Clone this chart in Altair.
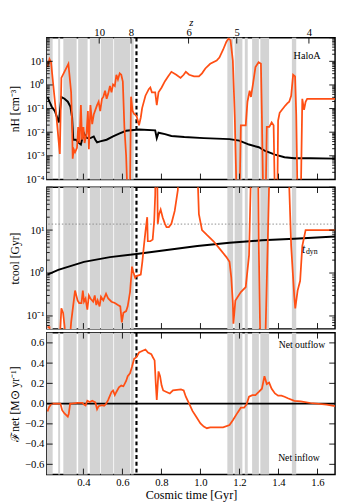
import altair as alt
import pandas as pd

# ---------------- data ----------------
nh_gas_t = [0.216, 0.226, 0.234, 0.246, 0.262, 0.279, 0.287, 0.323, 0.337, 0.342,
            0.345, 0.350, 0.357, 0.367, 0.373, 0.380, 0.387, 0.393, 0.400, 0.406,
            0.416, 0.423, 0.428, 0.436, 0.445, 0.453, 0.470, 0.478, 0.486, 0.495,
            0.502, 0.511, 0.519, 0.527, 0.536, 0.544, 0.552, 0.561, 0.569, 0.577,
            0.586, 0.594, 0.602, 0.610, 0.619, 0.627, 0.638, 0.644, 0.652, 0.660,
            0.672, 0.685, 0.694, 0.701, 0.718, 0.735, 0.743, 0.751, 0.768, 0.776,
            0.785, 0.801, 0.818, 0.834, 0.851, 0.876, 0.898, 0.914, 0.925, 0.942,
            0.967, 0.992, 1.008, 1.025, 1.050, 1.083, 1.097, 1.116, 1.133, 1.144,
            1.154, 1.166, 1.176, 1.186, 1.200, 1.207, 1.232, 1.241, 1.252, 1.259,
            1.269, 1.282, 1.298, 1.310, 1.315, 1.322, 1.334, 1.340, 1.353, 1.365,
            1.375, 1.382, 1.394, 1.398, 1.406, 1.418, 1.431, 1.445, 1.455, 1.465,
            1.475, 1.485, 1.491, 1.498, 1.514, 1.522, 1.531, 1.539, 1.547, 1.690]
nh_gas = [5.7, 12.5, 9.1, 0.9, 0.042, 0.0012, 2.0, 7.9, 0.49, 0.022,
          0.00076, 0.0019, 0.0014, 0.0022, 0.0166, 0.0035, 0.14, 0.0048, 0.0166, 0.0035,
          0.0089, 0.078, 0.0019, 0.14, 0.022, 0.056, 0.14, 0.195, 0.078, 0.26,
          0.31, 0.57, 0.26, 0.42, 0.9, 0.49, 1.06, 0.9, 2.7, 1.7,
          3.1, 2.7, 1.4, 0.0166, 0.001, 1e-5, 1e-5, 0.32, 0.079, 0.06,
          0.05, 0.0195, 0.042, 0.105, 0.35, 0.66, 0.78, 0.49, 0.49, 0.14,
          0.49, 0.78, 1.44, 2.3, 3.6, 2.7, 2.0, 2.7, 3.6, 2.7,
          2.3, 2.3, 3.1, 5.0, 7.9, 10.7, 14.5, 31, 68, 92,
          79, 10.7, 0.042, 1e-5, 1e-5, 0.0195, 0.0195, 0.195, 0.57, 0.31,
          1.06, 5.7, 9.1, 7.9, 0.042, 1e-5, 1e-5, 0.0166, 0.0166, 0.026,
          0.0195, 1e-5, 1e-5, 0.031, 0.066, 0.089, 0.123, 0.166, 0.195, 0.35,
          2.7, 2.3, 0.056, 1e-5, 1e-5, 0.26, 0.089, 0.195, 0.26, 0.26]

nh_halo_t = [0.216, 0.226, 0.237, 0.254, 0.274, 0.287, 0.303, 0.320, 0.333, 0.342,
             0.348, 0.362, 0.378, 0.387, 0.395, 0.403, 0.411, 0.420, 0.436, 0.453,
             0.461, 0.470, 0.486, 0.519, 0.552, 0.586, 0.619, 0.644, 0.685, 0.768,
             0.776, 0.785, 0.818, 0.851, 0.917, 1.017, 1.149, 1.199, 1.249, 1.299,
             1.332, 1.382, 1.431, 1.481, 1.564, 1.690]
nh_halo = [0.31, 0.195, 0.123, 0.078, 0.026, 0.31, 0.26, 0.195, 0.123, 0.042,
           0.0048, 0.0048, 0.0035, 0.003, 0.0056, 0.0089, 0.0066, 0.0056, 0.0056, 0.0066,
           0.0048, 0.0037, 0.0041, 0.0048, 0.0066, 0.0089, 0.0115, 0.012, 0.0129, 0.012,
           0.0056, 0.0095, 0.0083, 0.0069, 0.0062, 0.0056, 0.0051, 0.0044, 0.003, 0.0023,
           0.0016, 0.00112, 0.00087, 0.00079, 0.00079, 0.00076]

tcool_t = [0.216, 0.226, 0.232, 0.277, 0.287, 0.296, 0.303, 0.312, 0.328, 0.337,
           0.345, 0.357, 0.370, 0.378, 0.390, 0.397, 0.403, 0.411, 0.420, 0.428,
           0.436, 0.450, 0.458, 0.466, 0.473, 0.483, 0.490, 0.502, 0.516, 0.527,
           0.544, 0.561, 0.577, 0.589, 0.597, 0.605, 0.619, 0.627, 0.639, 0.649,
           0.655, 0.665, 0.672, 0.694, 0.702, 0.710, 0.718, 0.727, 0.730, 0.743,
           0.755, 0.763, 0.768, 0.772, 0.777, 0.781, 0.788, 0.796, 0.806, 0.818,
           0.826, 0.838, 0.851, 0.868, 0.884, 0.893, 0.980, 0.992, 1.008, 1.033,
           1.067, 1.100, 1.133, 1.149, 1.158, 1.166, 1.169, 1.179, 1.207, 1.232,
           1.249, 1.257, 1.262, 1.295, 1.299, 1.307, 1.332, 1.357, 1.448, 1.465,
           1.481, 1.486, 1.498, 1.511, 1.522, 1.539, 1.690]
tcool = [0.055, 0.055, 0.02, 0.02, 0.15, 0.118, 0.06, 0.02, 0.02, 0.071,
         0.14, 0.39, 0.23, 0.2, 0.2, 0.39, 0.215, 0.255, 0.14, 0.3,
         0.255, 0.215, 0.3, 0.18, 0.23, 0.167, 0.28, 0.23, 0.33, 0.255,
         0.215, 0.2, 0.18, 0.167, 0.071, 0.118, 0.13, 0.167, 0.36, 1.41,
         1.09, 0.78, 0.85, 0.92, 1.82, 4.26, 9.2, 20, 5.5, 5.5,
         6.0, 16.7, 66, 1000, 1000, 14, 23.5, 30, 20, 14,
         11.8, 11.8, 14, 28, 85, 1000, 1000, 23.5, 10, 7.7,
         5.5, 3.6, 2.35, 1.82, 0.78, 0.2, 0.066, 0.23, 0.36, 0.47,
         2.57, 92, 1000, 1000, 4.26, 0.02, 0.02, 1000, 1000, 4.26,
         0.28, 0.15, 0.39, 0.66, 4.26, 10, 10]

tdyn_t = [0.216, 0.271, 0.403, 0.536, 0.672, 0.818, 0.984, 1.149, 1.315, 1.481, 1.690]
tdyn = [0.92, 1.18, 1.82, 2.35, 2.78, 3.4, 4.26, 5.06, 5.78, 6.3, 7.1]
hubble_time = [13.8]

fnet_t = [0.216, 0.224, 0.237, 0.282, 0.291, 0.303, 0.320, 0.325, 0.332, 0.340,
          0.370, 0.395, 0.403, 0.411, 0.420, 0.433, 0.445, 0.461, 0.470, 0.478,
          0.495, 0.506, 0.516, 0.527, 0.544, 0.552, 0.561, 0.569, 0.582, 0.594,
          0.605, 0.619, 0.627, 0.639, 0.649, 0.660, 0.672, 0.685, 0.701, 0.718,
          0.731, 0.748, 0.756, 0.765, 0.771, 0.776, 0.785, 0.793, 0.801, 0.809,
          0.826, 0.843, 0.859, 0.900, 0.914, 0.925, 0.942, 0.959, 0.975, 1.000,
          1.017, 1.033, 1.050, 1.083, 1.116, 1.149, 1.166, 1.191, 1.207, 1.224,
          1.236, 1.249, 1.266, 1.282, 1.299, 1.315, 1.328, 1.340, 1.352, 1.365,
          1.382, 1.398, 1.415, 1.431, 1.448, 1.481, 1.514, 1.564, 1.647, 1.690]
fnet = [-0.078, -0.035, 0.0, 0.0, -0.065, -0.097, -0.128, -0.10, 0.0, 0.0,
        0.006, 0.006, -0.01, -0.019, 0.028, 0.016, 0.028, 0.012, -0.056, -0.025,
        -0.016, -0.021, -0.003, 0.037, 0.115, 0.13, 0.084, 0.115, 0.16, 0.178,
        0.171, 0.224, 0.27, 0.30, 0.364, 0.442, 0.458, 0.505, 0.52, 0.535,
        0.505, 0.489, 0.458, 0.427, 0.193, 0.037, 0.318, 0.27, 0.178, 0.13,
        0.115, 0.10, 0.13, 0.14, 0.13, 0.068, 0.0, -0.072, -0.119, -0.196,
        -0.227, -0.243, -0.234, -0.236, -0.234, -0.212, -0.165, -0.087, -0.04, -0.04,
        -0.01, 0.068, 0.084, 0.084, 0.115, 0.147, 0.27, 0.193, 0.208, 0.147,
        0.10, 0.078, 0.078, 0.068, 0.053, 0.028, 0.021, 0.006, -0.01, -0.025]

band_start = [0.2124, 0.2706, 0.2970, 0.3731, 0.4328, 0.4900, 0.5572, 0.6428,
              1.1378, 1.1751, 1.2274, 1.2647, 1.3070, 1.4687]
band_end = [0.2423, 0.2806, 0.3652, 0.4214, 0.4861, 0.5532, 0.6388, 0.6577,
            1.1677, 1.2149, 1.2423, 1.2995, 1.3518, 1.4910]

dash_time = [0.672]

z_labels = ["10", "8", "6", "5", "4"]
z_times = [0.481, 0.644, 0.939, 1.186, 1.556]

time_ticks = [0.4, 0.6, 0.8, 1.0, 1.2, 1.4, 1.6]
time_tick_labels = ["0.4", "0.6", "0.8", "1.0", "1.2", "1.4", "1.6"]
nh_ticks = [1e-4, 1e-3, 1e-2, 1e-1, 1.0, 10.0]
nh_tick_labels = ["10⁻⁴", "10⁻³", "10⁻²", "10⁻¹", "10⁰", "10¹"]
tc_ticks = [0.1, 1.0, 10.0]
tc_tick_labels = ["10⁻¹", "10⁰", "10¹"]
f_ticks = [-0.6, -0.4, -0.2, 0.0, 0.2, 0.4, 0.6]
f_tick_labels = ["−0.6", "−0.4", "−0.2", "0.0", "0.2", "0.4", "0.6"]

ann1_t, ann1_v, ann1_s = [1.547], [17.0], ["HaloA"]
ann2_t, ann2_v = [1.521], [3.7]
ann3_t = [1.52, 1.505]
ann3_v = [0.58, -0.54]
ann3_s = ["Net outflow", "Net inflow"]

# ---------------- style / layout ----------------
FONT = "Liberation Serif"
ORANGE = "#ff4f14"
GREY = "#d3d3d3"
W = 297
H1, H2, H3 = 146, 146, 146
XS = alt.Scale(domain=[0.2124, 1.69], nice=False, zero=False)
YS1 = alt.Scale(type="log", domain=[1e-4, 1e2], nice=False)
YS2 = alt.Scale(type="log", domain=[0.05, 100], nice=False)
YS3 = alt.Scale(domain=[-0.7, 0.7], nice=False, zero=False)


def label_expr(values, labels, log=True):
    expr = "'" + labels[-1] + "'"
    for i in range(len(values) - 2, -1, -1):
        if log:
            thr = (values[i] * values[i + 1]) ** 0.5
        else:
            thr = (values[i] + values[i + 1]) / 2
        expr = "datum.value < %.8g ? '%s' : (%s)" % (thr, labels[i], expr)
    return expr


def minor_log(lo_exp, hi_exp, lo, hi):
    out = []
    for e in range(lo_exp, hi_exp + 1):
        for m in range(2, 10):
            v = m * 10.0 ** e
            if lo < v < hi:
                out.append(v)
    return out


AXC = dict(grid=False, ticks=False, domain=False, labelFont=FONT, titleFont=FONT,
           labelColor="black", titleColor="black", titleFontWeight="normal",
           labelOverlap=False, labelFlush=False, labelBound=False)
YAX = dict(labelPadding=3, titlePadding=4, labelFontSize=11, titleFontSize=12,
           minExtent=22, maxExtent=22, **AXC)

# axes (the same object is handed to every layer of a panel so they merge cleanly)
X1 = alt.Axis(orient="top", values=z_times, labelExpr=label_expr(z_times, z_labels, log=False),
              title="z", titleFontStyle="italic", titlePadding=0, labelPadding=0,
              labelFontSize=11, titleFontSize=11, **AXC)
Y1 = alt.Axis(values=nh_ticks, labelExpr=label_expr(nh_ticks, nh_tick_labels),
              title="nH [cm⁻³]", **YAX)
X2 = None
Y2 = alt.Axis(values=tc_ticks, labelExpr=label_expr(tc_ticks, tc_tick_labels),
              title="tcool [Gyr]", **YAX)
X3 = alt.Axis(values=time_ticks, labelExpr=label_expr(time_ticks, time_tick_labels, log=False),
              title="Cosmic time [Gyr]", labelPadding=2, titlePadding=2,
              labelFontSize=11, titleFontSize=12.5, **AXC)
Y3 = alt.Axis(values=f_ticks, labelExpr=label_expr(f_ticks, f_tick_labels, log=False),
              title="ℱnet [M⊙ yr⁻¹]", **YAX)


def yticks(values, scale, yaxis, length):
    df = pd.DataFrame({"v": values})
    base = alt.Chart(df).mark_rule(color="black", strokeWidth=0.9)
    return [
        base.encode(y=alt.Y("v:Q", scale=scale, axis=yaxis), x=alt.value(0), x2=alt.value(length)),
        base.encode(y=alt.Y("v:Q", scale=scale, axis=yaxis), x=alt.value(W), x2=alt.value(W - length)),
    ]


def xticks(values, h, length, xaxis, top=True, bottom=True):
    df = pd.DataFrame({"v": values})
    base = alt.Chart(df).mark_rule(color="black", strokeWidth=0.9)
    out = []
    if top:
        out.append(base.encode(x=alt.X("v:Q", scale=XS, axis=xaxis), y=alt.value(0), y2=alt.value(length)))
    if bottom:
        out.append(base.encode(x=alt.X("v:Q", scale=XS, axis=xaxis), y=alt.value(h), y2=alt.value(h - length)))
    return out


bands_df = pd.DataFrame({"start": band_start, "end": band_end})


def bands(xaxis):
    return alt.Chart(bands_df).mark_rect(color=GREY).encode(
        x=alt.X("start:Q", scale=XS, axis=xaxis), x2="end:Q")


def dashed(xaxis):
    return alt.Chart(pd.DataFrame({"t": dash_time})).mark_rule(
        color="black", strokeWidth=2.2, strokeDash=[4, 3]).encode(x=alt.X("t:Q", scale=XS, axis=xaxis))


def line(t, v, scale, xaxis, yaxis, color, width):
    return alt.Chart(pd.DataFrame({"t": t, "v": v})).mark_line(
        color=color, strokeWidth=width, clip=True).encode(
        x=alt.X("t:Q", scale=XS, axis=xaxis), y=alt.Y("v:Q", scale=scale, axis=yaxis))


# ---------------- panel 1 ----------------
text1 = alt.Chart(pd.DataFrame({"t": ann1_t, "v": ann1_v, "s": ann1_s})).mark_text(
    fontSize=10.5, fill="black", font=FONT).encode(
    x=alt.X("t:Q", scale=XS, axis=X1), y=alt.Y("v:Q", scale=YS1, axis=Y1), text="s:N")

p1 = alt.layer(
    bands(X1), dashed(X1),
    line(nh_halo_t, nh_halo, YS1, X1, Y1, "black", 2),
    line(nh_gas_t, nh_gas, YS1, X1, Y1, ORANGE, 1.8),
    text1,
    *yticks(nh_ticks + [100.0], YS1, Y1, 6),
    *yticks(minor_log(-4, 1, 1e-4, 1e2), YS1, Y1, 3),
    *xticks(z_times, H1, 6, X1, top=True, bottom=False),
    *xticks(time_ticks, H1, 6, X1, top=False, bottom=True),
).properties(width=W, height=H1)

# ---------------- panel 2 ----------------
hub = alt.Chart(pd.DataFrame({"v": hubble_time})).mark_rule(
    color="#8a8a8a", strokeWidth=1, strokeDash=[1.5, 2]).encode(y=alt.Y("v:Q", scale=YS2, axis=Y2))
ann2 = pd.DataFrame({"t": ann2_t, "v": ann2_v})
t_lab = alt.Chart(ann2).mark_text(fontSize=12, fontStyle="italic", align="left",
                                  fill="black", font=FONT).encode(
    x=alt.X("t:Q", scale=XS, axis=X2), y=alt.Y("v:Q", scale=YS2, axis=Y2), text=alt.value("t"))
dyn_lab = alt.Chart(ann2).mark_text(fontSize=8, align="left", dx=4, dy=4,
                                    fill="black", font=FONT).encode(
    x=alt.X("t:Q", scale=XS, axis=X2), y=alt.Y("v:Q", scale=YS2, axis=Y2), text=alt.value("dyn"))

p2 = alt.layer(
    bands(X2), dashed(X2), hub,
    line(tdyn_t, tdyn, YS2, X2, Y2, "black", 2),
    line(tcool_t, tcool, YS2, X2, Y2, ORANGE, 1.8),
    t_lab, dyn_lab,
    *yticks(tc_ticks + [100.0], YS2, Y2, 6),
    *yticks(minor_log(-2, 1, 0.05, 100), YS2, Y2, 3),
    *xticks(time_ticks, H2, 6, X2),
).properties(width=W, height=H2)

# ---------------- panel 3 ----------------
zero = alt.Chart(pd.DataFrame({"v": [0.0]})).mark_rule(color="black", strokeWidth=2).encode(
    y=alt.Y("v:Q", scale=YS3, axis=Y3))
text3 = alt.Chart(pd.DataFrame({"t": ann3_t, "v": ann3_v, "s": ann3_s})).mark_text(
    fontSize=10, fill="black", font=FONT).encode(
    x=alt.X("t:Q", scale=XS, axis=X3), y=alt.Y("v:Q", scale=YS3, axis=Y3), text="s:N")

p3 = alt.layer(
    bands(X3), dashed(X3), zero,
    line(fnet_t, fnet, YS3, X3, Y3, ORANGE, 1.8),
    text3,
    *yticks(f_ticks, YS3, Y3, 6),
    *xticks(time_ticks, H3, 6, X3),
).properties(width=W, height=H3)

chart = alt.vconcat(p1, p2, p3, spacing=0).properties(
    padding={"left": 0, "top": 0, "right": 0, "bottom": 0}
).configure_view(
    stroke="black", strokeWidth=1.5
).configure_axis(grid=False, labelOverlap=False)

chart.save("out.html", embed_options={"renderer": "svg", "actions": False})
